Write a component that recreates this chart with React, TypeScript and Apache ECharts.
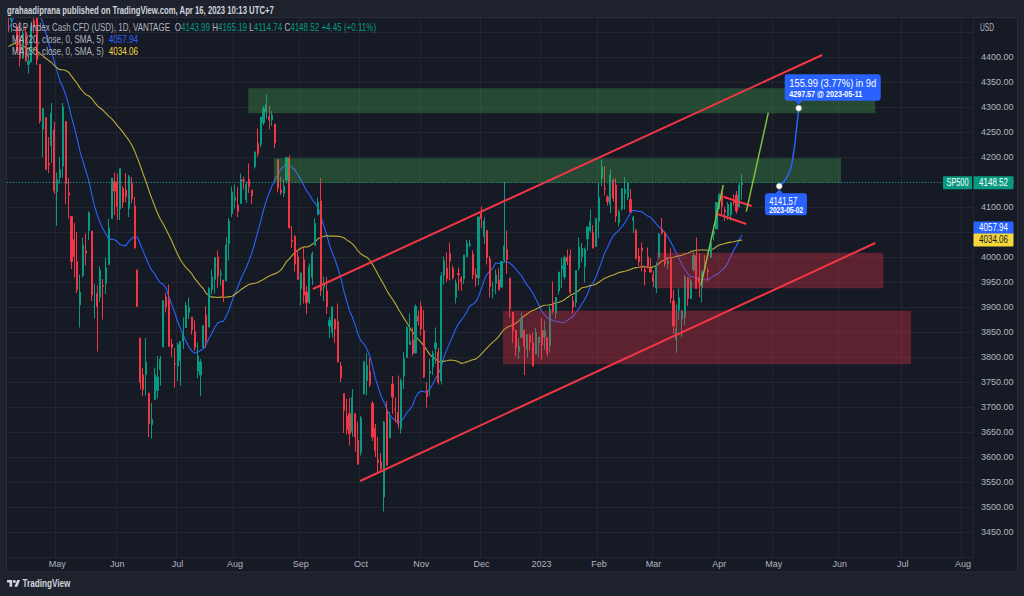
import React, { useEffect, useRef } from "react";
import * as echarts from "echarts";

// ---------- texts ----------
const AUTHOR = "grahaadiprana";
const PUBLISHED = "Apr 16, 2023 10:13 UTC+7";
const SYMBOL_TITLE = "S&P Index Cash CFD (USD), 1D, VANTAGE";
const SYMBOL_TAG = "SP500";
const LAST_OHLC = [4143.99, 4165.19, 4114.74, 4148.52];
const LAST_CHANGE = "+4.45 (+0.11%)";
const MA20_LAST = 4057.94;
const MA50_LAST = 4034.06;
const MA_PERIODS = [20, 50];
const MONTHS = ["Jan", "Feb", "Mar", "Apr", "May", "Jun", "Jul", "Aug", "Sep", "Oct", "Nov", "Dec"];

// ---------- time axis ----------
const FIRST_DATE = "2022-04-06";
const LAST_REAL_DATE = "2023-04-14";
const TOTAL_SLOTS = 337;
const HOLIDAYS = [
  "2022-04-15", "2022-05-30", "2022-06-20", "2022-07-04", "2022-09-05", "2022-11-24",
  "2022-12-26", "2023-01-02", "2023-01-16", "2023-02-20", "2023-04-07",
];

// ---------- price axis ----------
const Y_MIN = 3400;
const Y_MAX = 4500;
const Y_STEP = 50;
const LABEL_MIN = 3450;
const LABEL_MAX = 4400;

// closes before the first visible bar (Jan 19 - Apr 5 2022), used for the moving averages
const WARMUP_CLOSES = [
  4532.76, 4482.73, 4397.94, 4410.13, 4356.45, 4349.93, 4326.51, 4431.85, 4515.55,
  4546.54, 4589.38, 4477.44, 4500.53, 4483.87, 4521.54, 4587.18, 4504.08, 4418.64, 4401.67,
  4471.07, 4475.01, 4380.26, 4348.87, 4304.76, 4225.5, 4288.7, 4384.65, 4373.94,
  4306.26, 4386.54, 4363.49, 4328.87, 4201.09, 4170.7, 4277.88, 4259.52, 4204.31, 4173.11,
  4262.45, 4357.86, 4411.67, 4463.12, 4461.18, 4511.61, 4456.24, 4520.16, 4543.06, 4575.52,
  4631.6, 4602.45, 4530.41, 4545.86, 4582.64, 4525.12,
];

// daily bars [open, high, low, close], Apr 6 2022 - Apr 14 2023
const CANDLES: number[][] = [
  // Apr 2022
  [4494, 4503, 4450, 4481], [4474, 4521, 4450, 4500], [4494, 4521, 4487, 4488], [4462, 4464, 4408, 4413],
  [4437, 4471, 4381, 4397], [4398, 4452, 4396, 4447], [4449, 4461, 4390, 4393], [4385, 4411, 4367, 4392],
  [4390, 4471, 4390, 4462], [4473, 4488, 4448, 4459], [4490, 4513, 4384, 4394], [4385, 4386, 4267, 4272],
  [4255, 4299, 4200, 4296], [4279, 4279, 4175, 4175], [4187, 4240, 4168, 4184], [4223, 4308, 4188, 4288],
  [4254, 4270, 4126, 4132],
  // May
  [4131, 4169, 4062, 4155], [4159, 4200, 4147, 4175], [4182, 4308, 4158, 4300], [4271, 4271, 4106, 4147],
  [4128, 4158, 4077, 4123], [4081, 4082, 3976, 3991], [4035, 4068, 3959, 4001], [3991, 4050, 3928, 3935],
  [3904, 3965, 3859, 3930], [3963, 4039, 3959, 4024], [4013, 4047, 3983, 4008], [4053, 4091, 4034, 4089],
  [4052, 4052, 3912, 3924], [3900, 3946, 3877, 3901], [3927, 3943, 3811, 3901], [3920, 3981, 3910, 3974],
  [3943, 3956, 3875, 3941], [3947, 3999, 3926, 3979], [3985, 4076, 3985, 4058], [4077, 4158, 4077, 4158],
  [4151, 4169, 4084, 4132],
  // Jun
  [4150, 4167, 4074, 4101], [4096, 4177, 4074, 4177], [4137, 4142, 4098, 4109], [4134, 4168, 4110, 4121],
  [4097, 4164, 4080, 4161], [4147, 4160, 4107, 4116], [4102, 4120, 4017, 4018], [3974, 3975, 3900, 3901],
  [3838, 3838, 3735, 3750], [3764, 3778, 3722, 3735], [3765, 3838, 3723, 3790], [3728, 3728, 3640, 3667],
  [3665, 3708, 3637, 3675], [3715, 3779, 3715, 3765], [3733, 3802, 3717, 3760], [3774, 3802, 3743, 3796],
  [3820, 3914, 3820, 3912], [3920, 3928, 3889, 3900], [3913, 3945, 3820, 3822], [3826, 3836, 3800, 3819],
  [3786, 3818, 3739, 3785],
  // Jul
  [3782, 3829, 3752, 3825], [3793, 3832, 3742, 3831], [3831, 3879, 3816, 3845], [3859, 3910, 3859, 3903],
  [3889, 3919, 3876, 3899], [3880, 3880, 3845, 3854], [3851, 3873, 3812, 3819], [3771, 3829, 3758, 3802],
  [3764, 3796, 3722, 3790], [3819, 3864, 3818, 3863], [3884, 3902, 3818, 3831], [3860, 3940, 3860, 3937],
  [3935, 3975, 3925, 3960], [3955, 3999, 3927, 3999], [4000, 4013, 3938, 3962], [3965, 3975, 3943, 3967],
  [3954, 3954, 3910, 3921], [3952, 4039, 3952, 4024], [4027, 4078, 3993, 4072], [4087, 4141, 4080, 4130],
  // Aug
  [4113, 4145, 4097, 4119], [4104, 4140, 4080, 4091], [4107, 4167, 4107, 4155], [4154, 4161, 4135, 4152],
  [4115, 4151, 4108, 4145], [4156, 4187, 4128, 4140], [4134, 4134, 4106, 4122], [4181, 4211, 4177, 4210],
  [4227, 4257, 4201, 4207], [4225, 4280, 4219, 4280], [4269, 4302, 4264, 4297], [4290, 4325, 4277, 4305],
  [4281, 4303, 4255, 4274], [4274, 4292, 4262, 4284], [4266, 4266, 4218, 4228], [4195, 4195, 4129, 4138],
  [4134, 4160, 4124, 4129], [4127, 4156, 4120, 4141], [4154, 4200, 4147, 4199], [4198, 4203, 4057, 4058],
  [4034, 4062, 4018, 4031], [4041, 4044, 3971, 3986], [4000, 4015, 3955, 3955],
  // Sep
  [3937, 3970, 3903, 3967], [3995, 4019, 3907, 3924], [3930, 3942, 3886, 3908], [3910, 3987, 3906, 3980],
  [3959, 4011, 3944, 4006], [4023, 4077, 4023, 4067], [4084, 4119, 4084, 4110], [4112, 4158, 3922, 3933],
  [3940, 3961, 3912, 3946], [3932, 3960, 3886, 3901], [3862, 3880, 3838, 3873], [3849, 3901, 3839, 3900],
  [3875, 3877, 3828, 3856], [3871, 3907, 3789, 3790], [3782, 3790, 3750, 3758], [3727, 3727, 3648, 3693],
  [3682, 3716, 3645, 3655], [3687, 3718, 3623, 3647], [3651, 3736, 3641, 3719], [3687, 3687, 3610, 3640],
  [3633, 3671, 3584, 3586],
  // Oct
  [3609, 3682, 3603, 3678], [3726, 3791, 3726, 3791], [3753, 3807, 3723, 3783], [3771, 3798, 3740, 3745],
  [3707, 3712, 3632, 3640], [3657, 3666, 3600, 3612], [3594, 3640, 3570, 3589], [3590, 3608, 3573, 3577],
  [3520, 3672, 3491, 3670], [3690, 3712, 3583, 3583], [3638, 3690, 3638, 3678], [3746, 3762, 3686, 3720],
  [3696, 3719, 3669, 3695], [3689, 3763, 3657, 3666], [3657, 3757, 3647, 3753], [3762, 3810, 3736, 3797],
  [3799, 3862, 3799, 3859], [3825, 3887, 3825, 3831], [3834, 3859, 3803, 3807], [3808, 3905, 3808, 3901],
  [3881, 3893, 3863, 3872],
  // Nov
  [3901, 3911, 3843, 3856], [3853, 3894, 3758, 3760], [3733, 3750, 3699, 3720], [3767, 3796, 3722, 3771],
  [3780, 3813, 3764, 3807], [3817, 3859, 3786, 3828], [3810, 3818, 3745, 3749], [3752, 3970, 3745, 3962],
  [3963, 4001, 3945, 3993], [3978, 4009, 3950, 3957], [4007, 4029, 3953, 3992], [3977, 3983, 3955, 3959],
  [3919, 3955, 3907, 3947], [3967, 3979, 3933, 3965], [3957, 3962, 3933, 3950], [3956, 4004, 3946, 4004],
  [4001, 4034, 3999, 4027], [4024, 4035, 4020, 4026], [4006, 4013, 3956, 3964], [3965, 3977, 3941, 3958],
  [3958, 4081, 3944, 4080],
  // Dec
  [4087, 4101, 4058, 4077], [4041, 4080, 4026, 4072], [4053, 4053, 3985, 3999], [3996, 4002, 3919, 3941],
  [3933, 3951, 3917, 3934], [3947, 3975, 3926, 3964], [3954, 3977, 3934, 3934], [3940, 3991, 3938, 3991],
  [3994, 4150, 3990, 4022], [4015, 4053, 3966, 3995], [3958, 3958, 3879, 3896], [3890, 3890, 3828, 3852],
  [3853, 3855, 3801, 3818], [3811, 3838, 3796, 3822], [3839, 3889, 3839, 3878], [3854, 3854, 3764, 3822],
  [3815, 3845, 3798, 3845], [3843, 3846, 3813, 3829], [3829, 3849, 3780, 3783], [3806, 3858, 3806, 3849],
  [3829, 3840, 3800, 3840],
  // Jan 2023
  [3853, 3879, 3795, 3824], [3840, 3873, 3815, 3853], [3839, 3839, 3802, 3808], [3823, 3906, 3809, 3895],
  [3910, 3951, 3887, 3892], [3888, 3919, 3877, 3919], [3932, 3970, 3925, 3970], [3977, 3998, 3938, 3983],
  [3960, 4003, 3955, 3999], [3999, 4015, 3984, 3991], [4003, 4015, 3926, 3929], [3912, 3922, 3886, 3899],
  [3909, 3973, 3900, 3973], [3979, 4039, 3973, 4020], [4001, 4028, 3990, 4017], [3982, 4019, 3949, 4016],
  [4036, 4061, 4013, 4060], [4053, 4095, 4049, 4071], [4049, 4064, 4017, 4018], [4021, 4077, 4021, 4077],
  // Feb
  [4071, 4149, 4038, 4119], [4158, 4195, 4142, 4180], [4137, 4182, 4123, 4136], [4120, 4124, 4103, 4111],
  [4105, 4176, 4088, 4164], [4153, 4157, 4111, 4118], [4144, 4157, 4070, 4082], [4069, 4095, 4061, 4090],
  [4096, 4138, 4093, 4137], [4127, 4160, 4095, 4136], [4119, 4149, 4114, 4148], [4115, 4136, 4090, 4090],
  [4073, 4082, 4048, 4079], [4053, 4056, 3995, 3997], [4002, 4018, 3982, 3991], [4018, 4029, 3971, 4012],
  [3974, 3983, 3943, 3970], [4000, 4019, 3977, 3982], [3977, 3998, 3968, 3970],
  // Mar
  [3964, 3972, 3940, 3951], [3938, 3990, 3928, 3981], [3999, 4048, 3995, 4046], [4056, 4078, 4045, 4048],
  [4048, 4051, 3980, 3986], [3987, 4001, 3975, 3992], [3998, 4017, 3908, 3918], [3912, 3934, 3847, 3862],
  [3835, 3905, 3808, 3856], [3894, 3937, 3874, 3919], [3876, 3894, 3839, 3892], [3879, 3964, 3864, 3960],
  [3959, 3959, 3902, 3917], [3917, 3956, 3916, 3952], [3975, 4010, 3971, 4003], [4003, 4039, 3936, 3937],
  [3960, 4007, 3920, 3949], [3939, 3973, 3909, 3971], [3983, 4004, 3971, 3978], [3974, 3979, 3952, 3971],
  [3999, 4030, 3999, 4028], [4046, 4057, 4033, 4051], [4056, 4110, 4056, 4109],
  // Apr 2023
  [4102, 4128, 4096, 4125], [4129, 4134, 4086, 4101], [4094, 4100, 4072, 4090], [4082, 4110, 4074, 4105],
  [4085, 4110, 4073, 4109], [4111, 4125, 4103, 4109], [4124, 4132, 4087, 4092], [4100, 4150, 4099, 4144.07],
  [4143.99, 4165.19, 4114.74, 4148.52],
];

// ---------- drawings, anchored at [bar index, price] ----------
const GREEN_ZONES = [
  [[83.7, 4337.4], [302.4, 4287.4]],
  [[92.6, 4197.4], [290.5, 4148.6]],
];
const RED_ZONES = [
  [[226.2, 4008.6], [305.2, 3937.4]],
  [[172.5, 3892.6], [314.9, 3785.4]],
];
const RED_LINES = [
  [[106.2, 3936], [283.9, 4404]],
  [[122.7, 3552], [302.4, 4028]],
  [[249.4, 4120.6], [259.3, 4102]],
  [[246.6, 4087.4], [257.4, 4066]],
];
const GREEN_LINES = [
  [[241.6, 3944], [249.4, 4144]],
  [[257.4, 4090.6], [265.1, 4288.6]],
];
const PROJECTION = [
  [268.9, 4141.57], [271.0, 4154], [272.7, 4174], [273.9, 4208], [275.0, 4260], [275.7, 4297.57],
];
const PROJ_START_PRICE = "4141.57";
const PROJ_START_DATE = "2023-05-02";
const PROJ_END_PRICE = "4297.57";
const PROJ_END_DATE = "2023-05-11";
const PROJ_CHANGE = "155.99";
const PROJ_PCT = "3.77";
const PROJ_SPAN = "9d";

// ---------- style ----------
const FONT = '"Liberation Sans", Arial, sans-serif';
const OUTER = "#1e222d";
const PLOT_BG = "#161a25";
const GRID_COLOR = "#222633";
const TEXT_COLOR = "#b2b5be";
const UP = "#089981";
const DOWN = "#f23645";
const BLUE = "#2962ff";
const YELLOW = "#f5d63b";
const GRID_LEFT = 7;
const GRID_TOP = 7;
const GRID_WIDTH = 966;
const GRID_HEIGHT = 550;

let logoRegistered = false;
function registerLogo() {
  if (logoRegistered) return;
  echarts.graphic.registerShape(
    "tvlogo",
    echarts.graphic.extendPath("M14 22H7V11H0V4h14v18zM28 22h-8l7.5-18h8L28 22z", {}) as any
  );
  logoRegistered = true;
}

let measureCtx: CanvasRenderingContext2D | null = null;
function textWidth(text: string, font: string): number {
  if (!measureCtx) measureCtx = document.createElement("canvas").getContext("2d");
  if (!measureCtx) return text.length * 6;
  measureCtx.font = font;
  return measureCtx.measureText(text).width || 1;
}

function buildDates(): string[] {
  const out: string[] = [];
  const [y, m, d] = FIRST_DATE.split("-").map(Number);
  const cur = new Date(Date.UTC(y, m - 1, d));
  while (out.length < TOTAL_SLOTS) {
    const wd = cur.getUTCDay();
    const s = cur.toISOString().slice(0, 10);
    const holiday = s <= LAST_REAL_DATE && HOLIDAYS.indexOf(s) >= 0;
    if (wd !== 0 && wd !== 6 && !holiday) out.push(s);
    cur.setUTCDate(cur.getUTCDate() + 1);
  }
  return out;
}

const ALL_CLOSES = WARMUP_CLOSES.concat(CANDLES.map((c) => c[3]));
function sma(period: number): (number | null)[] {
  return CANDLES.map((_, i) => {
    const g = WARMUP_CLOSES.length + i;
    if (g < period - 1) return null;
    let s = 0;
    for (let k = g - period + 1; k <= g; k++) s += ALL_CLOSES[k];
    return +(s / period).toFixed(2);
  });
}

function buildOption(dates: string[]) {
  const isMonthStart = (i: number) => i > 0 && dates[i].slice(0, 7) !== dates[i - 1].slice(0, 7);
  const monthLabel = (v: string) => {
    const mo = +v.slice(5, 7);
    return mo === 1 ? v.slice(0, 4) : MONTHS[mo - 1];
  };
  const zoneItem = (z: number[][], fill: string) => [
    { coord: z[0], itemStyle: { color: fill, borderWidth: 0 } },
    { coord: z[1] },
  ];
  const lineSeries = (pts: number[][], color: string, width: number, extra: any = {}) => ({
    type: "line",
    xAxisIndex: 1,
    yAxisIndex: 0,
    data: pts,
    symbol: "none",
    silent: true,
    z: 4,
    lineStyle: { color, width },
    ...extra,
  });
  const [ma20, ma50] = MA_PERIODS.map(sma);

  const series: any[] = [
    {
      type: "candlestick",
      xAxisIndex: 0,
      yAxisIndex: 0,
      data: CANDLES.map((c) => [c[0], c[3], c[2], c[1]]),
      barWidth: 1.6,
      clip: true,
      silent: true,
      z: 2,
      itemStyle: { color: UP, color0: DOWN, borderColor: UP, borderColor0: DOWN, borderWidth: 1 },
      markLine: {
        silent: true,
        symbol: ["none", "none"],
        label: { show: false },
        lineStyle: { color: UP, type: [1, 2], width: 1 },
        data: [{ yAxis: LAST_OHLC[3] }],
      },
    },
    {
      type: "line", xAxisIndex: 0, yAxisIndex: 0, data: ma20, symbol: "none", silent: true, z: 2,
      lineStyle: { color: BLUE, width: 1.1 },
    },
    {
      type: "line", xAxisIndex: 0, yAxisIndex: 0, data: ma50, symbol: "none", silent: true, z: 2,
      lineStyle: { color: "#d9c53a", width: 1.1, opacity: 0.85 },
    },
  ];
  RED_LINES.forEach((l, i) =>
    series.push(
      lineSeries(l, DOWN, 2, i === 0
        ? {
            markArea: {
              silent: true,
              z: 3,
              data: [
                ...GREEN_ZONES.map((z) => zoneItem(z, "rgba(76,175,80,0.32)")),
                ...RED_ZONES.map((z) => zoneItem(z, "rgba(242,54,69,0.32)")),
              ],
            },
          }
        : {})
    )
  );
  GREEN_LINES.forEach((l) => series.push(lineSeries(l, "#7cc242", 1.5)));
  series.push(lineSeries(PROJECTION, BLUE, 1.5, { smooth: true, z: 5 }));

  return {
    animation: false,
    backgroundColor: PLOT_BG,
    tooltip: { show: false },
    grid: { left: GRID_LEFT, top: GRID_TOP, width: GRID_WIDTH, height: GRID_HEIGHT, containLabel: false },
    xAxis: [
      {
        type: "category",
        data: dates,
        boundaryGap: true,
        axisLine: { show: false },
        axisTick: { show: false },
        axisLabel: {
          interval: (i: number) => isMonthStart(i),
          formatter: (v: string) => monthLabel(v),
          color: TEXT_COLOR,
          fontSize: 9,
          fontFamily: FONT,
          margin: 2,
        },
        splitLine: { show: true, interval: (i: number) => isMonthStart(i), lineStyle: { color: GRID_COLOR, width: 1 } },
      },
      { type: "value", min: -0.5, max: TOTAL_SLOTS - 0.5, show: false, splitLine: { show: false } },
    ],
    yAxis: [
      {
        type: "value",
        position: "right",
        min: Y_MIN,
        max: Y_MAX,
        interval: Y_STEP,
        axisLine: { show: false },
        axisTick: { show: false },
        axisLabel: {
          formatter: (v: number) => (v < LABEL_MIN || v > LABEL_MAX ? "" : v.toFixed(2)),
          color: TEXT_COLOR,
          fontSize: 9,
          fontFamily: FONT,
          margin: 8,
        },
        splitLine: { show: true, lineStyle: { color: GRID_COLOR, width: 1 } },
      },
    ],
    series,
  };
}

// text element squeezed horizontally to the width it has in the reference
function txt(x: number, y: number, text: string, plain: string, size: number, fill: string, width: number, opts: any = {}) {
  const font = `${opts.weight || "normal"} ${size}px ${FONT}`;
  const scaleX = Math.min(1, width / textWidth(plain, font));
  return {
    type: "text",
    x,
    y,
    z: opts.z || 120,
    scaleX,
    silent: true,
    style: {
      text,
      fill,
      font,
      align: opts.align || "left",
      verticalAlign: "middle",
      textAlign: opts.align || "left",
      textVerticalAlign: "middle",
      rich: opts.rich,
    },
  };
}

function buildGraphics(chart: any, projIndex: number) {
  const py = (v: number) => chart.convertToPixel({ yAxisIndex: 0 }, v) as number;
  const pxy = (p: number[]) => chart.convertToPixel({ seriesIndex: projIndex }, p) as number[];
  const right = GRID_LEFT + GRID_WIDTH;
  const g: any[] = [];
  const rect = (x: number, y: number, w: number, h: number, fill: string, z = 100, r = 0) => ({
    type: "rect", z, silent: true, shape: { x, y, width: w, height: h, r }, style: { fill },
  });
  // outer frame
  g.push(rect(0, 0, 1024, 18, OUTER));
  g.push(rect(0, 572, 1024, 24, OUTER));
  g.push(rect(0, 0, 6.5, 596, OUTER));
  g.push(rect(1018, 0, 6, 596, OUTER));
  g.push({
    type: "rect", z: 101, silent: true,
    shape: { x: 6.5, y: 17.5, width: 1011, height: 554.5 },
    style: { fill: "none", stroke: "#2a2e39", lineWidth: 1 },
  });

  // header + legend
  const head = `${AUTHOR} published on TradingView.com, ${PUBLISHED}`;
  g.push(txt(7, 10, head, head, 11, "#d1d4dc", 267, { weight: "bold" }));
  const rs = (fill: string) => ({ fill, fontSize: 10.5, fontFamily: FONT });
  const l2 = [SYMBOL_TITLE, "  ", "O", LAST_OHLC[0], " H", LAST_OHLC[1], " L", LAST_OHLC[2], " C", LAST_OHLC[3], " ", LAST_CHANGE];
  g.push(
    txt(12, 28,
      `{n|${SYMBOL_TITLE}}  {k|O}{v|${LAST_OHLC[0]}} {k|H}{v|${LAST_OHLC[1]}} {k|L}{v|${LAST_OHLC[2]}} {k|C}{v|${LAST_OHLC[3]}} {v|${LAST_CHANGE}}`,
      l2.join(""), 10.5, TEXT_COLOR, 364, { rich: { n: rs(TEXT_COLOR), k: rs(TEXT_COLOR), v: rs(UP) } })
  );
  const ma1 = `MA (${MA_PERIODS[0]}, close, 0, SMA, 5)`;
  const ma2 = `MA (${MA_PERIODS[1]}, close, 0, SMA, 5)`;
  g.push(txt(12, 40, `{n|${ma1}}  {b|${MA20_LAST.toFixed(2)}}`, `${ma1}  ${MA20_LAST.toFixed(2)}`, 10.5, TEXT_COLOR, 126, {
    rich: { n: rs(TEXT_COLOR), b: rs(BLUE) },
  }));
  g.push(txt(12, 52, `{n|${ma2}}  {b|${MA50_LAST.toFixed(2)}}`, `${ma2}  ${MA50_LAST.toFixed(2)}`, 10.5, TEXT_COLOR, 126, {
    rich: { n: rs(TEXT_COLOR), b: rs(YELLOW) },
  }));
  g.push(txt(980, 27, "USD", "USD", 10, TEXT_COLOR, 14));

  // price tags
  const tag = (x: number, yc: number, w: number, text: string, bg: string, fg: string, tw: number) => {
    g.push(rect(x, yc - 6.5, w, 13, bg, 110, 1));
    g.push(txt(x + w / 2, yc, text, text, 10.5, fg, tw, { align: "center", z: 111 }));
  };
  const yLast = py(LAST_OHLC[3]);
  tag(right - 30, yLast, 29, SYMBOL_TAG, UP, "#ffffff", 22);
  tag(right + 0.5, yLast, 40, LAST_OHLC[3].toFixed(2), UP, "#ffffff", 29);
  tag(right + 0.5, py(MA20_LAST), 40, MA20_LAST.toFixed(2), BLUE, "#ffffff", 29);
  tag(right + 0.5, py(MA50_LAST), 40, MA50_LAST.toFixed(2), YELLOW, "#131722", 29);

  // projection labels
  const S = pxy(PROJECTION[0]);
  const E = pxy(PROJECTION[PROJECTION.length - 1]);
  g.push(rect(E[0] - 14, E[1] - 34, 96, 26.5, BLUE, 112, 3));
  g.push({ type: "polygon", z: 112, silent: true, shape: { points: [[E[0] - 4, E[1] - 7.6], [E[0] + 4, E[1] - 7.6], [E[0], E[1] - 3.8]] }, style: { fill: BLUE } });
  const p1 = `${PROJ_CHANGE} (${PROJ_PCT}%) in ${PROJ_SPAN}`;
  const p2 = `${PROJ_END_PRICE} @ ${PROJ_END_DATE}`;
  g.push(txt(E[0] - 9.5, E[1] - 25.5, p1, p1, 11.5, "#ffffff", 87, { z: 113 }));
  g.push(txt(E[0] - 9.5, E[1] - 14, p2, p2, 9, "#ffffff", 73, { z: 113, weight: "bold" }));
  g.push(rect(S[0] - 14.3, S[1] + 7, 42, 22, BLUE, 112, 3));
  g.push({ type: "polygon", z: 112, silent: true, shape: { points: [[S[0] - 4, S[1] + 7.2], [S[0] + 4, S[1] + 7.2], [S[0], S[1] + 3.4]] }, style: { fill: BLUE } });
  g.push(txt(S[0] - 10, S[1] + 14.3, PROJ_START_PRICE, PROJ_START_PRICE, 11.5, "#ffffff", 28, { z: 113 }));
  g.push(txt(S[0] - 10, S[1] + 23.5, PROJ_START_DATE, PROJ_START_DATE, 8.5, "#ffffff", 34, { z: 113, weight: "bold" }));
  [S, E].forEach((p) =>
    g.push({ type: "circle", z: 114, silent: true, shape: { cx: p[0], cy: p[1], r: 3 }, style: { fill: "#ffffff", stroke: "#9598a1", lineWidth: 0.6 } })
  );

  // footer logo
  g.push({ type: "tvlogo", z: 120, silent: true, x: 7, y: 578.5, scaleX: 0.37, scaleY: 0.37, style: { fill: "#d1d4dc" } });
  g.push({ type: "circle", z: 120, silent: true, shape: { cx: 7 + 20 * 0.37, cy: 578.5 + 8 * 0.37, r: 4 * 0.37 }, style: { fill: "#d1d4dc" } });
  g.push(txt(22.5, 583, "TradingView", "TradingView", 11.5, "#d1d4dc", 48, { weight: "bold" }));
  return g;
}

export default function App() {
  const ref = useRef<HTMLDivElement>(null);
  useEffect(() => {
    if (!ref.current) return;
    document.documentElement.style.margin = "0";
    document.body.style.margin = "0";
    document.body.style.background = OUTER;
    registerLogo();
    const dates = buildDates();
    const chart = echarts.init(ref.current, undefined, { renderer: "svg", width: 1024, height: 596 });
    const option: any = buildOption(dates);
    chart.setOption(option);
    const projIndex = option.series.length - 1;
    chart.setOption({ graphic: { elements: buildGraphics(chart, projIndex) } });
    return () => chart.dispose();
  }, []);
  return <div ref={ref} style={{ position: "relative", width: 1024, height: 596, background: OUTER }} />;
}
